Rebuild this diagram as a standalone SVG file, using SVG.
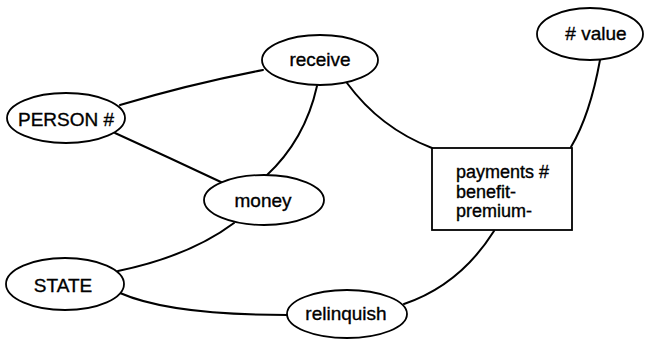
<svg xmlns="http://www.w3.org/2000/svg" width="648" height="339" viewBox="0 0 648 339">
<style>
.n ellipse,.n rect{fill:#fff;stroke:#000;stroke-width:1.8}
.c path{fill:none;stroke:#000;stroke-width:2;stroke-linecap:round}
text{font-family:"Liberation Sans",Arial,sans-serif;font-size:19px;fill:#000;stroke:#000;stroke-width:0.35}
.m{text-anchor:middle}
.b{font-size:18px}
</style>
<rect width="648" height="339" fill="#fff"/>
<g id="connectors" class="c">
<path d="M120,105 Q190,84 263,70"/>
<path d="M115,133 Q170,158 223,183"/>
<path d="M317,86 Q305,140 266,176"/>
<path d="M347,83 Q380,128 432,148"/>
<path d="M600,60 Q590,115 571,147"/>
<path d="M234,223 Q190,256 118,271"/>
<path d="M120,293 Q170,315 287,315"/>
<path d="M494,231 Q460,285 404,304"/>
</g>
<g id="receive" class="n"><ellipse cx="320" cy="60" rx="58" ry="25"/><text class="m" x="320" y="66">receive</text></g>
<g id="value" class="n"><ellipse cx="590" cy="34" rx="53" ry="26"/><text class="m" x="596" y="40"># value</text></g>
<g id="person" class="n"><ellipse cx="66" cy="118" rx="59" ry="25"/><text class="m" x="66" y="126">PERSON #</text></g>
<g id="money" class="n"><ellipse cx="264" cy="200" rx="60" ry="25"/><text class="m" x="263" y="207">money</text></g>
<g id="state" class="n"><ellipse cx="65" cy="284" rx="59" ry="26"/><text class="m" x="63" y="292">STATE</text></g>
<g id="relinquish" class="n"><ellipse cx="347" cy="314" rx="60" ry="24"/><text class="m" x="346" y="320">relinquish</text></g>
<g id="payments" class="n"><rect x="432" y="148" width="140" height="82"/>
<text class="b" x="456" y="178">payments #</text>
<text class="b" x="456" y="198">benefit-</text>
<text class="b" x="456" y="217">premium-</text></g>
</svg>
